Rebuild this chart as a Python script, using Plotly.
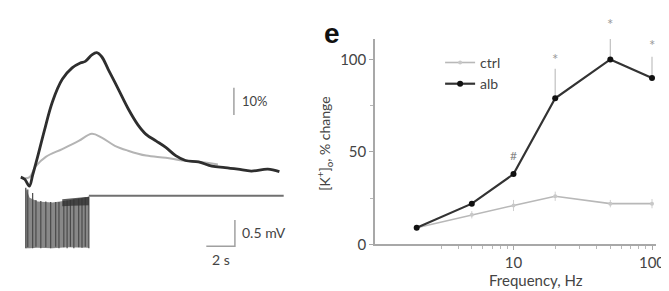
import math
import plotly.graph_objects as go

# ---------------- Panel e (right): [K+]o change vs stimulation frequency ----------------
freq_hz = [2, 5, 10, 20, 50, 100]
ctrl_pct = [9, 16, 21, 26, 22, 22]
ctrl_err = [1.5, 2, 3, 2.5, 2, 2.5]
alb_pct = [9, 22, 38, 79, 100, 90]
alb_err_up = [0, 0, 0, 16, 13, 11.5]
star_freq = [20, 50, 100]
star_y = [100, 119, 108]
hash_freq = [10]
hash_y = [48]
y_ticks = [0, 50, 100]
x_ticks = [10, 100]
x_tick_text = ["10", "100"]
Y_MAX = 111

# ---------------- Left panel: example traces ----------------
# [K+]o traces (% change) vs time (s)
k_alb_t = [-0.28, 0.0, 0.32, 0.55, 0.9, 1.36, 1.93, 2.62, 3.31, 3.88, 4.23, 4.69, 5.03,
           5.38, 5.84, 6.53, 7.22, 7.91, 8.48, 9.17, 9.86, 10.55, 11.24, 12.14, 13.08,
           14.0, 14.9, 15.84, 16.99, 17.8]
k_alb_v = [0.4, -0.4, -2.9, 1.1, 7.9, 17.3, 28.0, 36.3, 40.5, 42.3, 42.9, 45.3, 46.1,
           44.6, 39.9, 32.8, 25.6, 19.6, 16.1, 13.7, 11.3, 8.3, 6.5, 6.0, 4.4,
           3.9, 3.3, 2.6, 3.3, 2.4]
k_ctrl_t = [0.0, 0.34, 0.76, 1.47, 2.62, 3.77, 4.69, 5.38, 6.3, 7.22, 8.48, 9.86, 11.0,
            12.2, 13.5]
k_ctrl_v = [0.0, 0.4, 4.3, 7.8, 10.7, 13.7, 16.3, 14.9, 11.9, 10.1, 8.3, 7.5, 6.5,
            6.0, 5.0]

# Field potential (mV) during stimulation train and after
stim_env_t = [0.07, 0.34, 0.9, 1.93, 2.97, 3.66, 4.48]
stim_env_top = [0.15, -0.04, -0.11, -0.13, -0.09, -0.06, -0.02]
stim_env_bottom = [-1.0, -1.0, -0.99, -1.0, -0.98, -0.99, -0.99]
band_t = [2.62, 3.3, 4.0, 4.48]
band_top = [-0.07, -0.05, -0.03, -0.02]
band_bottom = [-0.2, -0.19, -0.18, -0.18]
spike_t = [0.07, 0.21, 0.55, 0.78, 1.12, 1.47, 1.81, 2.16, 2.39, 2.73, 2.96, 3.19,
           3.43, 3.77, 4.0, 4.23, 4.48]
spike_top = [0.15, 0.12, 0.05, -0.08, -0.1, -0.11, -0.12, -0.12, -0.12, -0.1, -0.09,
             -0.08, -0.07, -0.06, -0.05, -0.04, -0.02]
spike_bottom = [-1.0, -0.98, -1.0, -0.97, -1.0, -0.98, -1.0, -0.97, -1.0, -0.98, -1.0,
                -0.97, -1.0, -0.98, -0.99, -0.97, -1.0]
base_t = [4.48, 6.0, 10.0, 14.0, 18.1]
base_v = [0.0, 0.0, 0.0, 0.0, 0.0]

# scale bars
sb_pct = 10
sb_mv = 0.5
sb_s = 2

FONT = "Lato, Open Sans, sans-serif"
TXT = "#444444"

fig = go.Figure()

# ---- left: K traces (xaxis2 / yaxis2)
fig.add_trace(go.Scatter(x=k_ctrl_t, y=k_ctrl_v, mode="lines",
                         line=dict(color="#b4b4b4", width=2, shape="spline"),
                         xaxis="x2", yaxis="y2", showlegend=False, hoverinfo="skip"))
fig.add_trace(go.Scatter(x=k_alb_t, y=k_alb_v, mode="lines",
                         line=dict(color="#2e2e2e", width=2.8, shape="spline"),
                         xaxis="x2", yaxis="y2", showlegend=False, hoverinfo="skip"))
# 10% scale bar
sb_x = 14.62
sb_y0 = 23.2
fig.add_trace(go.Scatter(x=[sb_x, sb_x], y=[sb_y0, sb_y0 + sb_pct], mode="lines",
                         line=dict(color="#a0a0a0", width=1.5),
                         xaxis="x2", yaxis="y2", showlegend=False, hoverinfo="skip"))

# ---- left: field potential (xaxis3 / yaxis3)
fig.add_trace(go.Scatter(x=stim_env_t + stim_env_t[::-1],
                         y=stim_env_top + stim_env_bottom[::-1],
                         fill="toself", fillcolor="rgba(115,115,115,0.85)",
                         line=dict(width=0), mode="lines",
                         xaxis="x3", yaxis="y3", showlegend=False, hoverinfo="skip"))
sx, sy = [], []
for t, a, b in zip(spike_t, spike_top, spike_bottom):
    sx += [t, t, None]
    sy += [a, b, None]
fig.add_trace(go.Scatter(x=sx, y=sy, mode="lines",
                         line=dict(color="#4a4a4a", width=1.2),
                         xaxis="x3", yaxis="y3", showlegend=False, hoverinfo="skip"))
fig.add_trace(go.Scatter(x=band_t + band_t[::-1], y=band_top + band_bottom[::-1],
                         fill="toself", fillcolor="rgba(50,50,50,0.8)",
                         line=dict(width=0), mode="lines",
                         xaxis="x3", yaxis="y3", showlegend=False, hoverinfo="skip"))
fig.add_trace(go.Scatter(x=base_t, y=base_v, mode="lines",
                         line=dict(color="#707070", width=2),
                         xaxis="x3", yaxis="y3", showlegend=False, hoverinfo="skip"))
# 0.5 mV / 2 s scale bar
mv_x = 14.69
mv_y0 = -0.963
fig.add_trace(go.Scatter(x=[mv_x - sb_s, mv_x, mv_x], y=[mv_y0, mv_y0, mv_y0 + sb_mv],
                         mode="lines", line=dict(color="#a0a0a0", width=1.5),
                         xaxis="x3", yaxis="y3", showlegend=False, hoverinfo="skip"))

# ---- right panel
fig.add_trace(go.Scatter(x=freq_hz, y=ctrl_pct, name="ctrl", mode="lines+markers",
                         line=dict(color="#b8b8b8", width=1.6),
                         marker=dict(color="#c8c8c8", size=4),
                         error_y=dict(type="data", array=ctrl_err, color="#d0d0d0",
                                      thickness=1, width=0),
                         xaxis="x", yaxis="y", hoverinfo="skip"))
fig.add_trace(go.Scatter(x=freq_hz, y=alb_pct, name="alb", mode="lines+markers",
                         line=dict(color="#333333", width=2.2),
                         marker=dict(color="#111111", size=6),
                         error_y=dict(type="data", array=alb_err_up, arrayminus=[0] * 6,
                                      symmetric=False, color="#c0c0c0",
                                      thickness=1.2, width=0),
                         cliponaxis=False,
                         xaxis="x", yaxis="y", hoverinfo="skip"))

W, H = 669, 291
def px(x):
    return x / W
def py(y):
    return 1 - y / H

annotations = [
    dict(text="10%", x=15.05, y=sb_y0 + sb_pct / 2, xref="x2", yref="y2",
         xanchor="left", yanchor="middle", showarrow=False,
         font=dict(family=FONT, size=13, color=TXT)),
    dict(text="0.5 mV", x=15.05, y=mv_y0 + sb_mv / 2 + 0.02, xref="x3", yref="y3",
         xanchor="left", yanchor="middle", showarrow=False,
         font=dict(family=FONT, size=14, color=TXT)),
    dict(text="2 s", x=mv_x - sb_s / 2, y=mv_y0 - 0.05, xref="x3", yref="y3",
         xanchor="center", yanchor="top", showarrow=False,
         font=dict(family=FONT, size=14, color=TXT)),
    dict(text="<b>e</b>", x=px(328), y=py(26), xref="paper", yref="paper",
         xanchor="center", yanchor="middle", showarrow=False,
         font=dict(family="Liberation Sans, Arial", size=28, color="#111111")),
    dict(text="[K<sup>+</sup>]<sub>o</sub>, % change", x=px(321), y=py(139),
         xref="paper", yref="paper", xanchor="center", yanchor="middle",
         textangle=-90, showarrow=False,
         font=dict(family=FONT, size=14, color=TXT)),
    dict(text="Frequency, Hz", x=px(535), y=py(280), xref="paper", yref="paper",
         xanchor="center", yanchor="middle", showarrow=False,
         font=dict(family=FONT, size=15, color=TXT)),
]
# significance marks (y given in data units, placed relative to the y-axis domain so
# that marks above the axis top are still drawn)
for f, v in zip(star_freq, star_y):
    annotations.append(dict(text="*", x=math.log10(f), y=v / Y_MAX, xref="x",
                            yref="y domain", xanchor="center", yanchor="middle",
                            showarrow=False,
                            font=dict(family=FONT, size=15, color="#9a9a9a")))
for f, v in zip(hash_freq, hash_y):
    annotations.append(dict(text="#", x=math.log10(f), y=v / Y_MAX, xref="x",
                            yref="y domain", xanchor="center", yanchor="middle",
                            showarrow=False,
                            font=dict(family=FONT, size=12, color="#888888")))

hidden = dict(visible=False, showgrid=False, zeroline=False, fixedrange=True)

fig.update_layout(
    width=W, height=H,
    margin=dict(l=0, r=0, t=0, b=0),
    paper_bgcolor="white", plot_bgcolor="rgba(0,0,0,0)",
    font=dict(family=FONT, color=TXT),
    annotations=annotations,
    showlegend=True,
    legend=dict(x=px(438), y=py(40), xanchor="left", yanchor="top",
                bgcolor="rgba(0,0,0,0)", borderwidth=0,
                font=dict(family=FONT, size=14, color=TXT),
                itemwidth=30, tracegroupgap=0),
    xaxis=dict(type="log", domain=[px(372), px(657)], range=[0, 2.03],
               showgrid=False, zeroline=False, showline=True, linecolor="#a8a8a8",
               linewidth=1.5, ticks="outside", ticklen=4, tickcolor="#a8a8a8",
               tickvals=x_ticks, ticktext=x_tick_text,
               tickfont=dict(family=FONT, size=15, color=TXT),
               minor=dict(ticks="outside", ticklen=3, tickcolor="#b8b8b8",
                          tickvals=[3, 4, 5, 6, 7, 8, 9, 20, 30, 40, 50, 60, 70, 80, 90]),
               anchor="y"),
    yaxis=dict(domain=[py(243), py(32)], range=[0, Y_MAX],
               showgrid=False, zeroline=False, showline=True, linecolor="#a8a8a8",
               linewidth=1.5, ticks="outside", ticklen=4, tickcolor="#a8a8a8",
               tickvals=y_ticks, tickfont=dict(family=FONT, size=15, color=TXT),
               minor=dict(ticks="outside", ticklen=3, tickcolor="#b8b8b8",
                          tickvals=[25, 75]),
               anchor="x"),
    xaxis2=dict(domain=[0, px(300)], range=[-17 / 14.5, (300 - 17) / 14.5],
                anchor="y2", **hidden),
    yaxis2=dict(domain=[py(190), py(30)], range=[(175 - 190) / 2.8, (175 - 30) / 2.8],
                anchor="x2", **hidden),
    xaxis3=dict(domain=[0, px(300)], range=[-17 / 14.5, (300 - 17) / 14.5],
                anchor="y3", **hidden),
    yaxis3=dict(domain=[py(270), py(180)], range=[(193 - 270) / 54, (193 - 180) / 54],
                anchor="x3", **hidden),
)

fig.write_html("out.html")
